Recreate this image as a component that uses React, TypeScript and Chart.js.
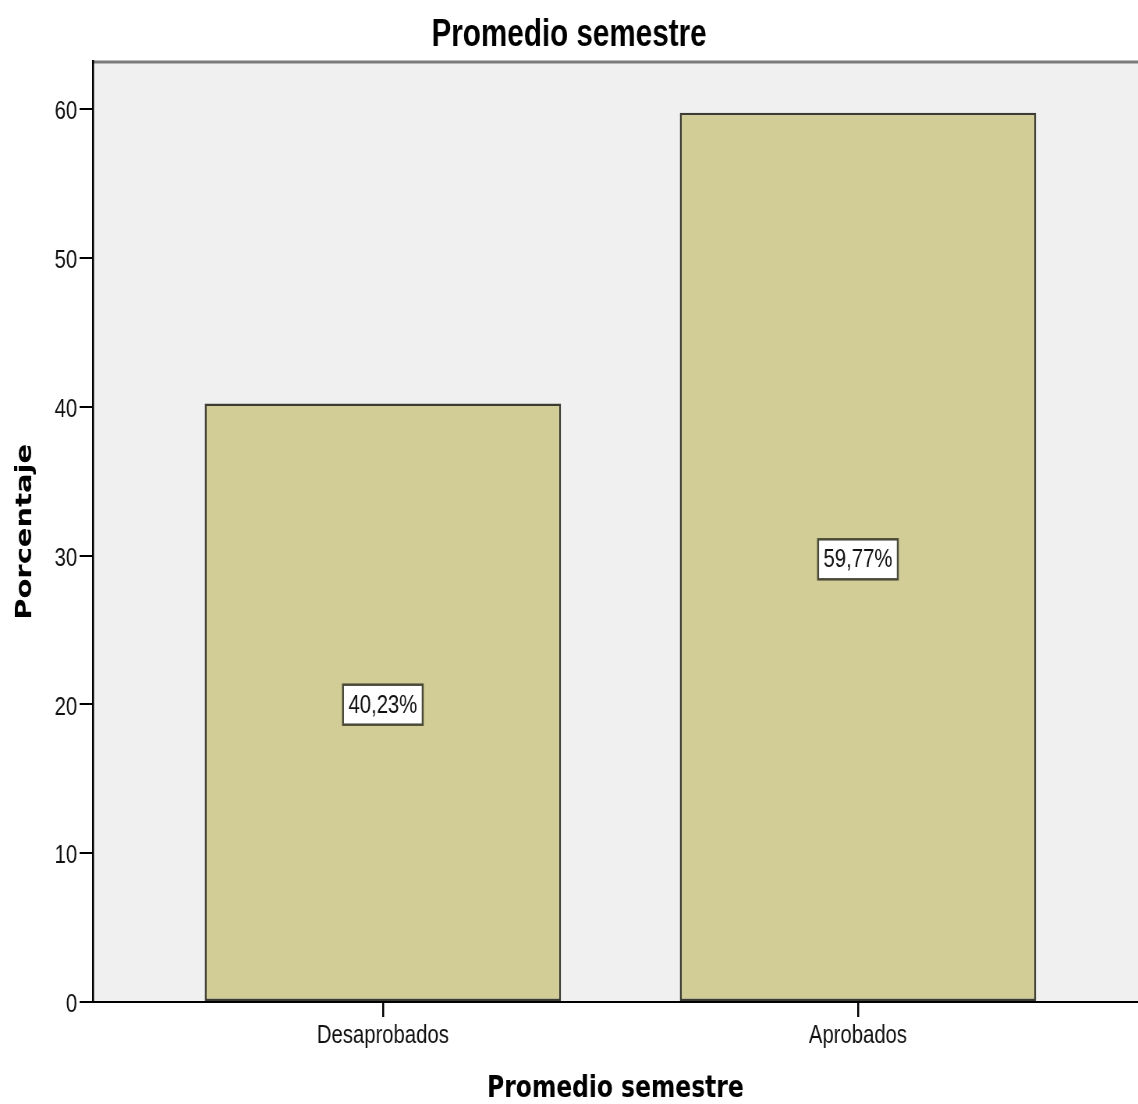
import React, { useEffect, useRef } from 'react';
import { Chart, registerables } from 'chart.js';

Chart.register(...registerables);

const categories = ['Desaprobados', 'Aprobados'];
const percentages = [40.23, 59.77];
const yTicks = [0, 10, 20, 30, 40, 50, 60];

// the reference is horizontally squeezed; the canvas is drawn wider and scaled in X
const SQUEEZE = 0.78;
const OUT_W = 1138;
const OUT_H = 1104;
const CANVAS_W = Math.round(OUT_W / SQUEEZE);

const SANS = "'Liberation Sans', Arial, sans-serif";
const DEJAVU = "'DejaVu Sans', sans-serif";

const plotBg = {
  id: 'plotBg',
  beforeDraw(chart: any) {
    const { ctx, chartArea } = chart;
    ctx.save();
    ctx.fillStyle = '#f0f0f0';
    ctx.fillRect(chartArea.left, chartArea.top, chartArea.right - chartArea.left, chartArea.bottom - chartArea.top);
    ctx.strokeStyle = '#7a7a7a';
    ctx.lineWidth = 3;
    ctx.beginPath();
    ctx.moveTo(chartArea.left, chartArea.top + 0.5);
    ctx.lineTo(chartArea.right, chartArea.top + 0.5);
    ctx.stroke();
    ctx.restore();
  },
};

const boxLabels = {
  id: 'boxLabels',
  afterDatasetsDraw(chart: any) {
    const ctx = chart.ctx;
    const meta = chart.getDatasetMeta(0);
    meta.data.forEach((bar: any, i: number) => {
      const { x, y, base } = bar.getProps(['x', 'y', 'base'], true);
      const mid = (y + base) / 2 + 2.5;
      const text = percentages[i].toFixed(2).replace('.', ',') + '%';
      ctx.save();
      ctx.font = `26px ${SANS}`;
      const w = ctx.measureText(text).width + 14;
      const h = 40;
      ctx.fillStyle = '#ffffff';
      ctx.fillRect(x - w / 2, mid - h / 2, w, h);
      ctx.strokeStyle = '#4a4a38';
      ctx.lineWidth = 2.5;
      ctx.strokeRect(x - w / 2, mid - h / 2, w, h);
      ctx.fillStyle = '#111111';
      ctx.textAlign = 'center';
      ctx.textBaseline = 'middle';
      ctx.fillText(text, x, mid + 1);
      ctx.restore();
    });
  },
};

export default function App() {
  const ref = useRef<HTMLCanvasElement | null>(null);

  useEffect(() => {
    document.body.style.margin = '0';
    const canvas = ref.current;
    if (!canvas) return;
    const chart = new Chart(canvas, {
      type: 'bar',
      data: {
        datasets: [
          {
            data: percentages.map((v, i) => ({ x: i, y: v })),
            backgroundColor: '#d2cd97',
            borderColor: '#3c3c32',
            borderWidth: 2.5,
            borderSkipped: false,
            categoryPercentage: 1,
            barPercentage: 0.75,
          } as any,
        ],
      },
      options: {
        animation: false,
        responsive: false,
        devicePixelRatio: 1,
        layout: { padding: 0 },
        plugins: {
          legend: { display: false },
          tooltip: { enabled: false },
          title: {
            display: true,
            text: 'Promedio semestre',
            color: '#000',
            font: { family: SANS, size: 38, weight: 'bold' },
            padding: { top: 13, bottom: 3 },
          },
        },
        scales: {
          x: {
            type: 'linear',
            offset: false,
            min: -0.6105,
            max: 1.5895,
            afterBuildTicks: (scale: any) => {
              scale.ticks = categories.map((_, i) => ({ value: i }));
            },
            afterFit: (scale: any) => {
              scale.height = 102;
            },
            ticks: {
              callback: (value: any) => categories[Math.round(value)] ?? '',
              color: '#111',
              font: { family: SANS, size: 26 },
              padding: 3,
              maxRotation: 0,
              autoSkip: false,
            },
            grid: {
              offset: false,
              drawOnChartArea: false,
              drawTicks: true,
              tickLength: 15,
              color: '#000',
              lineWidth: 2.5,
            },
            border: { display: true, color: '#000', width: 2 },
            title: {
              display: true,
              text: 'Promedio semestre',
              color: '#000',
              font: { family: DEJAVU, size: 30, weight: 'bold', lineHeight: 1 },
              padding: { top: 0, bottom: 0 },
            },
          },
          y: {
            type: 'linear',
            min: 0,
            max: 63.2,
            afterBuildTicks: (scale: any) => {
              scale.ticks = yTicks.map((v) => ({ value: v }));
            },
            afterFit: (scale: any) => {
              scale.width = 119;
            },
            ticks: {
              color: '#111',
              font: { family: SANS, size: 26 },
              padding: 3,
              labelOffset: 3,
            },
            grid: {
              drawOnChartArea: false,
              drawTicks: true,
              tickLength: 17,
              color: '#000',
              lineWidth: 2,
            },
            border: { display: true, color: '#000', width: 2.5 },
            title: {
              display: true,
              text: 'Porcentaje',
              color: '#000',
              font: { family: DEJAVU, size: 29, weight: 'bold' },
              padding: { top: 15, bottom: 0 },
            },
          },
        },
      },
      plugins: [plotBg, boxLabels],
    });
    return () => chart.destroy();
  }, []);

  return (
    <div style={{ width: OUT_W, height: OUT_H, overflow: 'hidden', position: 'relative' }}>
      <canvas
        ref={ref}
        width={CANVAS_W}
        height={OUT_H}
        style={{
          display: 'block',
          width: CANVAS_W,
          height: OUT_H,
          transform: `scaleX(${OUT_W / CANVAS_W})`,
          transformOrigin: '0 0',
        }}
      />
    </div>
  );
}
